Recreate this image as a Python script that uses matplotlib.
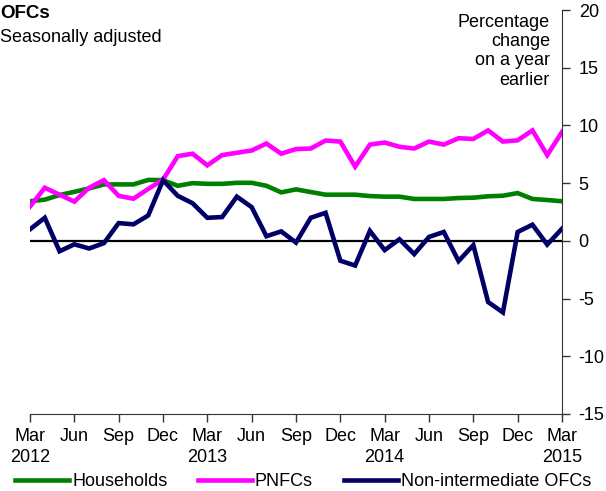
import numpy as np
import matplotlib.pyplot as plt

# Annual growth of lending: households, PNFCs and non-intermediate OFCs
# Monthly data, Mar 2012 to Mar 2015 (percentage change on a year earlier)

plt.rcParams['font.family'] = ['Liberation Sans', 'DejaVu Sans']
plt.rcParams['axes.unicode_minus'] = False

households = [3.43, 3.57, 3.97, 4.25, 4.54, 4.89, 4.89, 4.89, 5.28, 5.26,
              4.77, 5.0, 4.94, 4.94, 5.03, 5.03, 4.77, 4.2, 4.46,
              4.23, 4.0, 4.0, 4.0, 3.88, 3.83, 3.83, 3.63, 3.63,
              3.63, 3.71, 3.74, 3.86, 3.91, 4.14, 3.63, 3.54, 3.43]

pnfcs = [2.97, 4.6, 4.0, 3.4, 4.6, 5.26, 3.9, 3.65, 4.5, 5.3,
         7.34, 7.55, 6.54, 7.43, 7.63, 7.83, 8.43, 7.55, 7.95,
         8.0, 8.69, 8.6, 6.43, 8.34, 8.52, 8.15, 8.0, 8.6,
         8.34, 8.89, 8.83, 9.57, 8.6, 8.71, 9.57, 7.43, 9.43]

ofcs = [1.0, 2.0, -0.9, -0.3, -0.66, -0.2, 1.54, 1.43, 2.2, 5.25,
        3.9, 3.26, 2.0, 2.06, 3.83, 2.92, 0.4, 0.82, -0.15,
        2.0, 2.43, -1.72, -2.14, 0.86, -0.8, 0.14, -1.15, 0.34,
        0.77, -1.75, -0.37, -5.3, -6.2, 0.77, 1.4, -0.32, 1.05]

tick_labels = ['Mar\n2012', 'Jun', 'Sep', 'Dec',
               'Mar\n2013', 'Jun', 'Sep', 'Dec',
               'Mar\n2014', 'Jun', 'Sep', 'Dec',
               'Mar\n2015']

series_names = ['Households', 'PNFCs', 'Non-intermediate OFCs']
colours = ['#008000', '#ff00ff', '#000066']

# -------------------------------------------------------------------------------------------------
# Figure
# -------------------------------------------------------------------------------------------------
fig = plt.figure(figsize=(6.06, 4.91), dpi=100)
ax = fig.add_axes([30/606, 77/491, 532/606, 404/491])

x = np.arange(len(households))
for y, c, name in zip([households, pnfcs, ofcs], colours, series_names):
    ax.plot(x, y, color=c, lw=3.3, label=name, solid_joinstyle='miter')

ax.axhline(0, color='black', lw=1.6, zorder=1)

ax.set_xlim(0, len(households) - 1)
ax.set_ylim(-15, 20)
ax.set_yticks(np.arange(-15, 21, 5))
ax.set_xticks(np.arange(0, len(households), 3))
ax.set_xticklabels(tick_labels, linespacing=1.3)

ax.yaxis.tick_right()
ax.spines['left'].set_visible(False)
ax.spines['top'].set_visible(False)
ax.spines['right'].set_color('#333333')
ax.spines['bottom'].set_color('#333333')
ax.tick_params(axis='both', direction='out', length=6, width=1, color='#333333',
               labelsize=13)
ax.tick_params(axis='y', pad=6)
ax.tick_params(axis='x', pad=4)

fig.text(0.0, 1 - 13/491, 'OFCs', fontsize=13.5, fontweight='bold', ha='left', va='center')
fig.text(0.0, 1 - 37/491, 'Seasonally adjusted', fontsize=13, ha='left', va='center')
fig.text(550/606, 1 - 14/491, 'Percentage\nchange\non a year\nearlier', fontsize=13,
         ha='right', va='top', linespacing=1.17)

fig.legend(loc='center', bbox_to_anchor=(0.5, 1 - 482/491), ncol=3, frameon=False,
           fontsize=13, handlelength=3.0, handletextpad=0.15, columnspacing=1.7,
           borderaxespad=0)

fig.savefig('out.png', dpi=100)
